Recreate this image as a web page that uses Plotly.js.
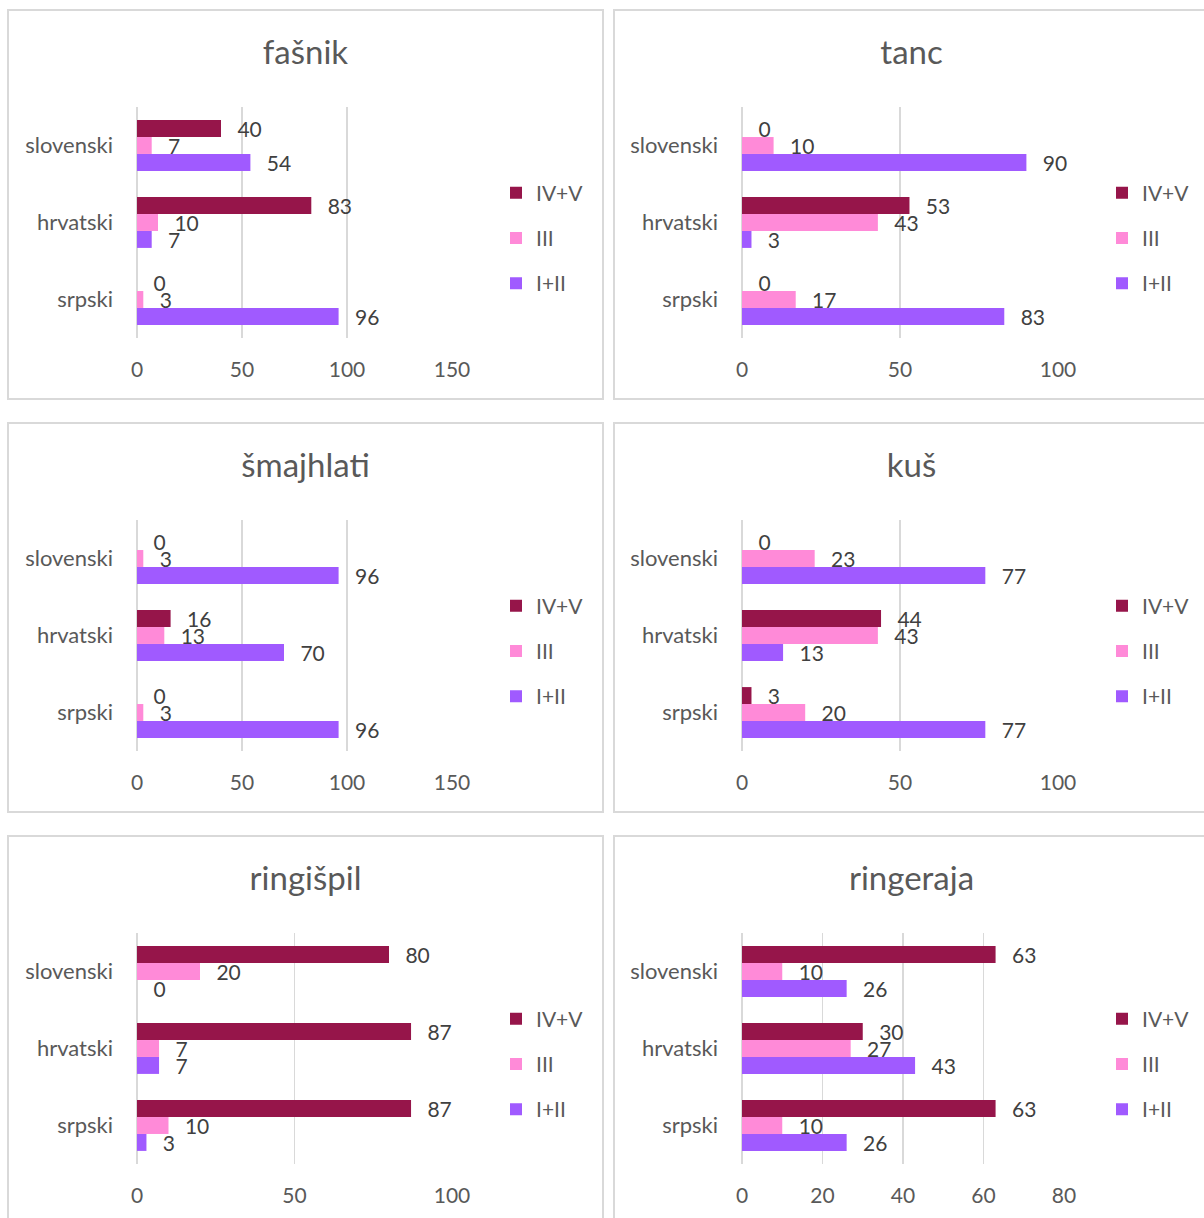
<!DOCTYPE html>
<html><head><meta charset="utf-8">
<script src="https://cdn.plot.ly/plotly-3.0.1.min.js"></script>
<style>
html,body{margin:0;padding:0;overflow:hidden;background:#fff;width:1204px;height:1218px;}
.panel{position:absolute;width:597px;height:391px;box-sizing:border-box;border:2px solid #d9d9d9;background:#fff;}
.panel > div{position:absolute;left:0;top:0;}
</style></head><body>
<div class="panel" style="left:7px;top:9px"><div id="p0"></div></div>
<div class="panel" style="left:613px;top:9px"><div id="p1"></div></div>
<div class="panel" style="left:7px;top:422px"><div id="p2"></div></div>
<div class="panel" style="left:613px;top:422px"><div id="p3"></div></div>
<div class="panel" style="left:7px;top:835px"><div id="p4"></div></div>
<div class="panel" style="left:613px;top:835px"><div id="p5"></div></div>
<script>
// ---- data ----
const categories = ['slovenski', 'hrvatski', 'srpski'];
const seriesNames = ['IV+V', 'III', 'I+II'];
const seriesColors = ['#96154A', '#FF8AD8', '#A05AFF'];
const chartTitles = ['fašnik', 'tanc', 'šmajhlati', 'kuš', 'ringišpil', 'ringeraja'];

const fasnik_IVV = [40, 83, 0];
const fasnik_III = [7, 10, 3];
const fasnik_I_II = [54, 7, 96];

const tanc_IVV = [0, 53, 0];
const tanc_III = [10, 43, 17];
const tanc_I_II = [90, 3, 83];

const smajhlati_IVV = [0, 16, 0];
const smajhlati_III = [3, 13, 3];
const smajhlati_I_II = [96, 70, 96];

const kus_IVV = [0, 44, 3];
const kus_III = [23, 43, 20];
const kus_I_II = [77, 13, 77];

const ringispil_IVV = [80, 87, 87];
const ringispil_III = [20, 7, 10];
const ringispil_I_II = [0, 7, 3];

const ringeraja_IVV = [63, 30, 63];
const ringeraja_III = [10, 27, 10];
const ringeraja_I_II = [26, 43, 26];

const axisMax = [150, 100, 150, 100, 100, 80];
const axisStep = [50, 50, 50, 50, 50, 20];

const panelData = [
  [fasnik_IVV, fasnik_III, fasnik_I_II],
  [tanc_IVV, tanc_III, tanc_I_II],
  [smajhlati_IVV, smajhlati_III, smajhlati_I_II],
  [kus_IVV, kus_III, kus_I_II],
  [ringispil_IVV, ringispil_III, ringispil_I_II],
  [ringeraja_IVV, ringeraja_III, ringeraja_I_II]
];

// ---- layout per panel ----
const W = 593, H = 387;
const FONT = 'Lato, "Open Sans", sans-serif';
const margins = [
  {l: 128, r: 150}, {l: 127, r: 150},
  {l: 128, r: 150}, {l: 127, r: 150},
  {l: 128, r: 150}, {l: 127, r: 144}
];

panelData.forEach((series, i) => {
  const traces = series.map((vals, s) => ({
    type: 'bar',
    orientation: 'h',
    name: seriesNames[s],
    legendgroup: 'g' + s,
    x: vals,
    y: categories,
    marker: {color: seriesColors[s], line: {width: 0}},
    texttemplate: '\u00a0\u00a0\u2009%{x}',
    textposition: 'outside',
    constraintext: 'none',
    cliponaxis: false,
    textfont: {family: FONT, size: 21, color: '#404040'},
    hoverinfo: 'skip'
  }));
  const layout = {
    width: W, height: H,
    margin: {l: margins[i].l, r: margins[i].r, t: 96, b: 60, pad: 0},
    paper_bgcolor: '#fff', plot_bgcolor: '#fff',
    font: {family: FONT, size: 21, color: '#595959'},
    title: {text: chartTitles[i], font: {family: FONT, size: 33, color: '#595959'},
            xref: 'container', x: 0.5, xanchor: 'center',
            yref: 'container', y: 1 - 41 / H, yanchor: 'middle'},
    barmode: 'group', bargap: 0.34, bargroupgap: 0,
    showlegend: true,
    legend: {xref: 'container', yref: 'container', x: 487 / W, xanchor: 'left',
             y: 1 - 227 / H, yanchor: 'middle', traceorder: 'grouped', tracegroupgap: 15,
             font: {family: FONT, size: 21, color: '#595959'}, bgcolor: 'rgba(0,0,0,0)'},
    xaxis: {range: [0, axisMax[i]], dtick: axisStep[i], tick0: 0, showgrid: true,
            gridcolor: '#d9d9d9', gridwidth: 1.5, zeroline: true, zerolinecolor: '#d9d9d9',
            zerolinewidth: 1.5, showline: false, ticks: '', ticklabelstandoff: 17,
            tickfont: {family: FONT, size: 21, color: '#595959'}, fixedrange: true},
    yaxis: {type: 'category', categoryorder: 'array', categoryarray: categories,
            autorange: 'reversed', showgrid: false, zeroline: false, showline: false,
            ticks: '', ticklabelstandoff: 23,
            tickfont: {family: FONT, size: 22, color: '#595959'}, fixedrange: true}
  };
  Plotly.newPlot('p' + i, traces, layout, {displayModeBar: false, staticPlot: true});
});
</script>
</body></html>
